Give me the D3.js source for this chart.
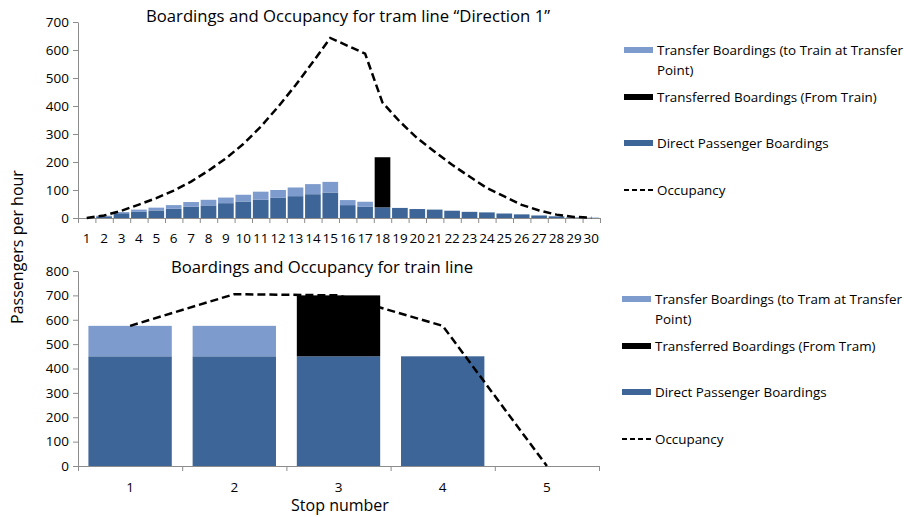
<!DOCTYPE html>
<html>
<head>
<meta charset="utf-8">
<script src="https://cdn.jsdelivr.net/npm/d3@7"></script>
<style>
  body { margin: 0; background: #fff; }
  text { font-family: "Open Sans", sans-serif; fill: #000; }
</style>
</head>
<body>
<div id="chart"></div>
<script>
// tram line "Direction 1"
const tramStops = ["1","2","3","4","5","6","7","8","9","10","11","12","13","14","15",
                   "16","17","18","19","20","21","22","23","24","25","26","27","28","29","30"];
const tramDirect = [0, 6, 17, 22, 27, 33, 40, 45, 53, 59, 65, 72, 78, 85, 91,
                    46, 40, 38, 36, 32, 30, 26, 22, 20, 16, 13, 9, 6, 2, 1];
const tramTransfer = [0, 2, 4, 8, 10, 13, 17, 20, 20, 24, 29, 28, 31, 36, 38,
                      18, 18, 0, 0, 0, 0, 0, 0, 0, 0, 0, 0, 0, 0, 0];
const tramTransferred = [0, 0, 0, 0, 0, 0, 0, 0, 0, 0, 0, 0, 0, 0, 0,
                         0, 0, 179, 0, 0, 0, 0, 0, 0, 0, 0, 0, 0, 0, 0];
const tramOccupancy = [0, 9, 26, 48, 71, 98, 130, 169, 213, 264, 326, 397, 474, 557, 643,
                       615, 587, 412, 344, 285, 237, 190, 148, 107, 77, 47, 27, 12, 4, 1];
const tramTicks = [0, 100, 200, 300, 400, 500, 600, 700];

// train line
const trainStops = ["1", "2", "3", "4", "5"];
const trainDirect = [450, 450, 450, 450, 0];
const trainTransfer = [125, 125, 0, 0, 0];
const trainTransferred = [0, 0, 250, 0, 0];
const trainOccupancy = [575, 705, 700, 575, 0];
const trainTicks = [0, 100, 200, 300, 400, 500, 600, 700, 800];

const tramLegend = ["Transfer Boardings (to Train at Transfer", "Point)",
                    "Transferred Boardings (From Train)", "Direct Passenger Boardings", "Occupancy"];
const trainLegend = ["Transfer Boardings (to Tram at Transfer", "Point)",
                     "Transferred Boardings (From Tram)", "Direct Passenger Boardings", "Occupancy"];

const width = 904, height = 517;
const colors = { direct: "#3d6597", transfer: "#7d9bcd", transferred: "#000000" };
const axisGray = "#8c8c8c";

let svg = d3.select("#chart")
    .append("svg")
    .attr("width", width)
    .attr("height", height);

function drawPanel(opts) {
    const { stops, direct, transfer, transferred, occupancy, ticks, top, bottom, left, right,
            pad, title, titleX, titleY, legend, legendX, legendY } = opts;

    let table = stops.map(function (s, i) {
        return { stop: s, direct: direct[i], transfer: transfer[i], transferred: transferred[i] };
    });
    let series = d3.stack().keys(["direct", "transfer", "transferred"])(table);

    let x = d3.scaleBand()
        .domain(stops)
        .range([left, right])
        .paddingInner(pad)
        .paddingOuter(pad / 2);

    let y = d3.scaleLinear()
        .domain([0, d3.max(ticks)])
        .range([bottom, top]);

    // boundary ticks between categories
    let xb = d3.scaleLinear()
        .domain([0, stops.length])
        .range([left, right]);

    let g = svg.append("g");

    // bars
    g.selectAll("g.series")
        .data(series)
        .enter()
        .append("g")
        .attr("fill", function (d) { return colors[d.key]; })
        .selectAll("rect")
        .data(function (d) { return d; })
        .enter()
        .append("rect")
        .attr("x", function (d) { return x(d.data.stop); })
        .attr("y", function (d) { return y(d[1]); })
        .attr("width", x.bandwidth())
        .attr("height", function (d) { return Math.max(0, y(d[0]) - y(d[1])); });

    // y axis
    let yAxis = g.append("g")
        .attr("transform", `translate(${left}, 0)`)
        .call(d3.axisLeft(y).tickValues(ticks).tickSize(5).tickPadding(4).tickSizeOuter(0));
    yAxis.select(".domain").attr("stroke", axisGray);
    yAxis.selectAll(".tick line").attr("stroke", axisGray);
    yAxis.selectAll("text").style("font-size", "13.5px").attr("fill", "#000");

    // x axis ticks (between categories)
    let xTicks = g.append("g")
        .attr("transform", `translate(0, ${bottom})`)
        .call(d3.axisBottom(xb).tickValues(d3.range(stops.length + 1)).tickSize(5)
              .tickFormat("").tickSizeOuter(0));
    xTicks.select(".domain").attr("stroke", axisGray);
    xTicks.selectAll(".tick line").attr("stroke", axisGray);

    // x axis labels
    let xAxis = g.append("g")
        .attr("transform", `translate(0, ${bottom})`)
        .call(d3.axisBottom(x).tickSize(0).tickPadding(opts.labelPad));
    xAxis.select(".domain").remove();
    xAxis.selectAll("text").style("font-size", "13.5px").attr("fill", "#000");

    // occupancy line
    g.append("path")
        .datum(occupancy)
        .attr("fill", "none")
        .attr("stroke", "#000")
        .attr("stroke-width", 2.5)
        .attr("stroke-dasharray", "8,4")
        .attr("d", d3.line()
            .x(function (d, i) { return x(stops[i]) + x.bandwidth() / 2; })
            .y(function (d) { return y(d); }));

    // title
    g.append("text")
        .attr("x", titleX)
        .attr("y", titleY)
        .style("text-anchor", "middle")
        .style("font-size", "16.7px")
        .text(title);

    // legend
    let lg = g.append("g").attr("transform", `translate(${legendX}, ${legendY})`);
    let rows = [
        { y: 0, fill: colors.transfer, label: legend[0] },
        { y: 20, fill: null, label: legend[1] },
        { y: 47, fill: colors.transferred, label: legend[2] },
        { y: 93, fill: colors.direct, label: legend[3] },
        { y: 140, fill: "line", label: legend[4] }
    ];
    rows.forEach(function (r) {
        if (r.fill === "line") {
            lg.append("line")
                .attr("x1", 0).attr("x2", 31)
                .attr("y1", r.y).attr("y2", r.y)
                .attr("stroke", "#000")
                .attr("stroke-width", 2)
                .attr("stroke-dasharray", "5,3");
        } else if (r.fill) {
            lg.append("rect")
                .attr("x", 0).attr("y", r.y - 3)
                .attr("width", 29).attr("height", 6)
                .attr("fill", r.fill);
        }
        lg.append("text")
            .attr("x", 33)
            .attr("y", r.y + 4.5)
            .style("font-size", "13.4px")
            .text(r.label);
    });
}

drawPanel({
    stops: tramStops, direct: tramDirect, transfer: tramTransfer, transferred: tramTransferred,
    occupancy: tramOccupancy, ticks: tramTicks,
    top: 22, bottom: 218, left: 78, right: 600, pad: 0.1, labelPad: 15,
    title: "Boardings and Occupancy for tram line \u201cDirection 1\u201d", titleX: 348, titleY: 22,
    legend: tramLegend, legendX: 624, legendY: 50
});

drawPanel({
    stops: trainStops, direct: trainDirect, transfer: trainTransfer, transferred: trainTransferred,
    occupancy: trainOccupancy, ticks: trainTicks,
    top: 271, bottom: 466, left: 78, right: 599, pad: 0.2, labelPad: 16,
    title: "Boardings and Occupancy for train line", titleX: 322, titleY: 273,
    legend: trainLegend, legendX: 622, legendY: 299
});

// shared axis labels
svg.append("text")
    .attr("transform", `translate(23, 247) rotate(-90)`)
    .style("text-anchor", "middle")
    .style("font-size", "16px")
    .text("Passengers per hour");

svg.append("text")
    .attr("x", 340)
    .attr("y", 511)
    .style("text-anchor", "middle")
    .style("font-size", "16px")
    .text("Stop number");
</script>
</body>
</html>
